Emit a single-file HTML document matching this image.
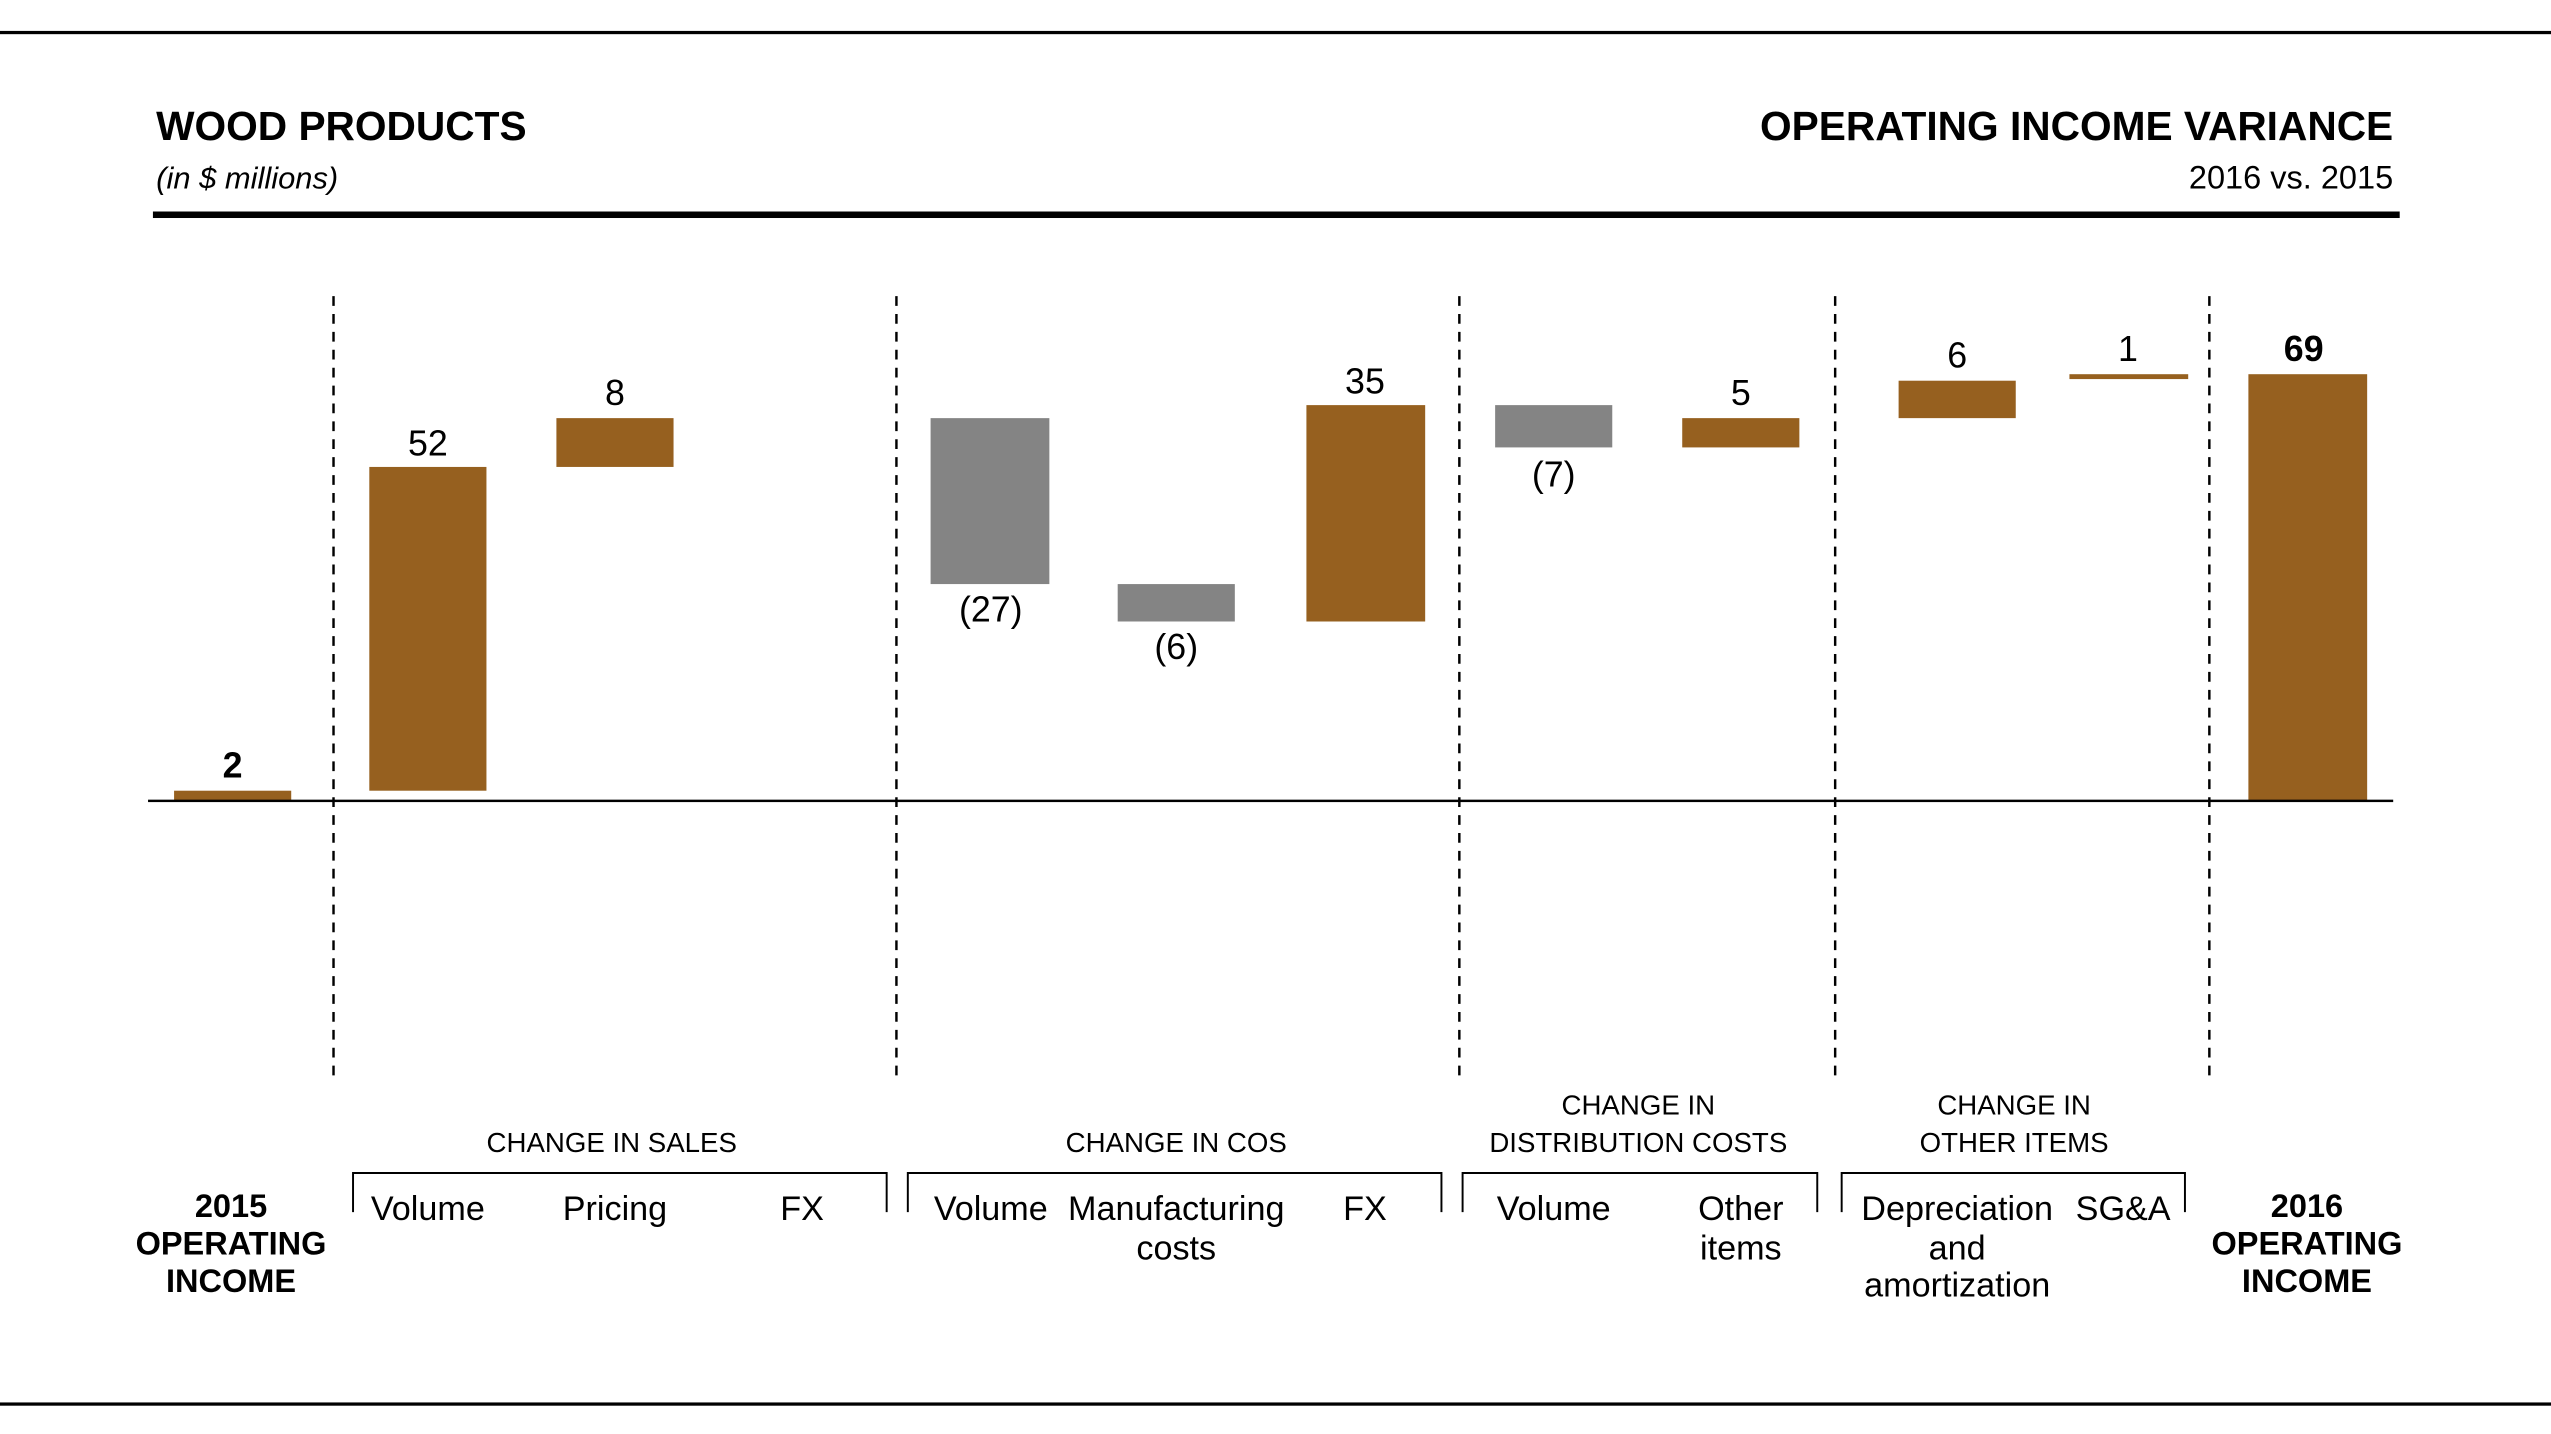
<!DOCTYPE html>
<html><head><meta charset="utf-8"><style>
html,body{margin:0;padding:0;background:#fff;}
svg{display:block;}
text{font-family:"Liberation Sans",sans-serif;fill:#000;}
.t{font-size:20px;text-anchor:middle;}
.c{font-size:21px;text-anchor:middle;}
.v{font-size:22px;text-anchor:middle;}
.b{font-weight:bold;}
.h{font-size:17px;text-anchor:middle;}
</style></head><body>
<svg width="2551" height="1434" viewBox="0 0 1568 881.4" preserveAspectRatio="none" xmlns="http://www.w3.org/2000/svg">
<rect x="0" y="19" width="1568" height="2" fill="#000"/>
<rect x="0" y="862" width="1568" height="2" fill="#000"/>
<text x="96" y="86" font-size="25" font-weight="bold">WOOD PRODUCTS</text>
<text x="96" y="116" font-size="19" font-style="italic">(in $ millions)</text>
<text x="1471" y="86" font-size="25" font-weight="bold" text-anchor="end">OPERATING INCOME VARIANCE</text>
<text x="1471" y="116" font-size="20" text-anchor="end">2016 vs. 2015</text>
<rect x="94" y="130" width="1381" height="4" fill="#000"/>
<g stroke="#000" stroke-width="1.5" stroke-dasharray="6,5">
<line x1="205" y1="182" x2="205" y2="662"/><line x1="551" y1="182" x2="551" y2="662"/>
<line x1="897" y1="182" x2="897" y2="662"/><line x1="1128" y1="182" x2="1128" y2="662"/>
<line x1="1358" y1="182" x2="1358" y2="662"/>
</g>
<g fill="#96601F">
<rect x="107" y="486" width="72" height="6"/>
<rect x="227" y="287" width="72" height="199"/>
<rect x="342" y="257" width="72" height="30"/>
<rect x="803" y="249" width="73" height="133"/>
<rect x="1034" y="257" width="72" height="18"/>
<rect x="1167" y="234" width="72" height="23"/>
<rect x="1272" y="230" width="73" height="3"/>
<rect x="1382" y="230" width="73" height="262"/>
</g>
<g fill="#848484">
<rect x="572" y="257" width="73" height="102"/>
<rect x="687" y="359" width="72" height="23"/>
<rect x="919" y="249" width="72" height="26"/>
</g>
<rect x="91" y="491.5" width="1380" height="1.5" fill="#000"/>
<text class="v b" x="143" y="478">2</text>
<text class="v" x="263" y="280">52</text>
<text class="v" x="378" y="249">8</text>
<text class="v" x="609" y="382">(27)</text>
<text class="v" x="723" y="405">(6)</text>
<text class="v" x="839" y="242">35</text>
<text class="v" x="955" y="299">(7)</text>
<text class="v" x="1070" y="249">5</text>
<text class="v" x="1203" y="226">6</text>
<text class="v" x="1308" y="222">1</text>
<text class="v b" x="1416" y="222">69</text>
<text class="h" x="376" y="708">CHANGE IN SALES</text>
<text class="h" x="723" y="708">CHANGE IN COS</text>
<text class="h" x="1007" y="685">CHANGE IN</text>
<text class="h" x="1007" y="708">DISTRIBUTION COSTS</text>
<text class="h" x="1238" y="685">CHANGE IN</text>
<text class="h" x="1238" y="708">OTHER ITEMS</text>
<g fill="none" stroke="#000" stroke-width="1.2">
<polyline points="217,745 217,721 545,721 545,745"/>
<polyline points="558,745 558,721 886,721 886,745"/>
<polyline points="899,745 899,721 1117,721 1117,745"/>
<polyline points="1132,745 1132,721 1343,721 1343,745"/>
</g>
<text class="c" x="263" y="750">Volume</text>
<text class="c" x="378" y="750">Pricing</text>
<text class="c" x="493" y="750">FX</text>
<text class="c" x="609" y="750">Volume</text>
<text class="c" x="723" y="750">Manufacturing</text>
<text class="c" x="723" y="774">costs</text>
<text class="c" x="839" y="750">FX</text>
<text class="c" x="955" y="750">Volume</text>
<text class="c" x="1070" y="750">Other</text>
<text class="c" x="1070" y="774">items</text>
<text class="c" x="1203" y="750">Depreciation</text>
<text class="c" x="1203" y="774">and</text>
<text class="c" x="1203" y="797">amortization</text>
<text class="c" x="1305" y="750">SG&amp;A</text>
<text class="t b" x="142" y="748">2015</text>
<text class="t b" x="142" y="771">OPERATING</text>
<text class="t b" x="142" y="794">INCOME</text>
<text class="t b" x="1418" y="748">2016</text>
<text class="t b" x="1418" y="771">OPERATING</text>
<text class="t b" x="1418" y="794">INCOME</text>
</svg>
</body></html>
